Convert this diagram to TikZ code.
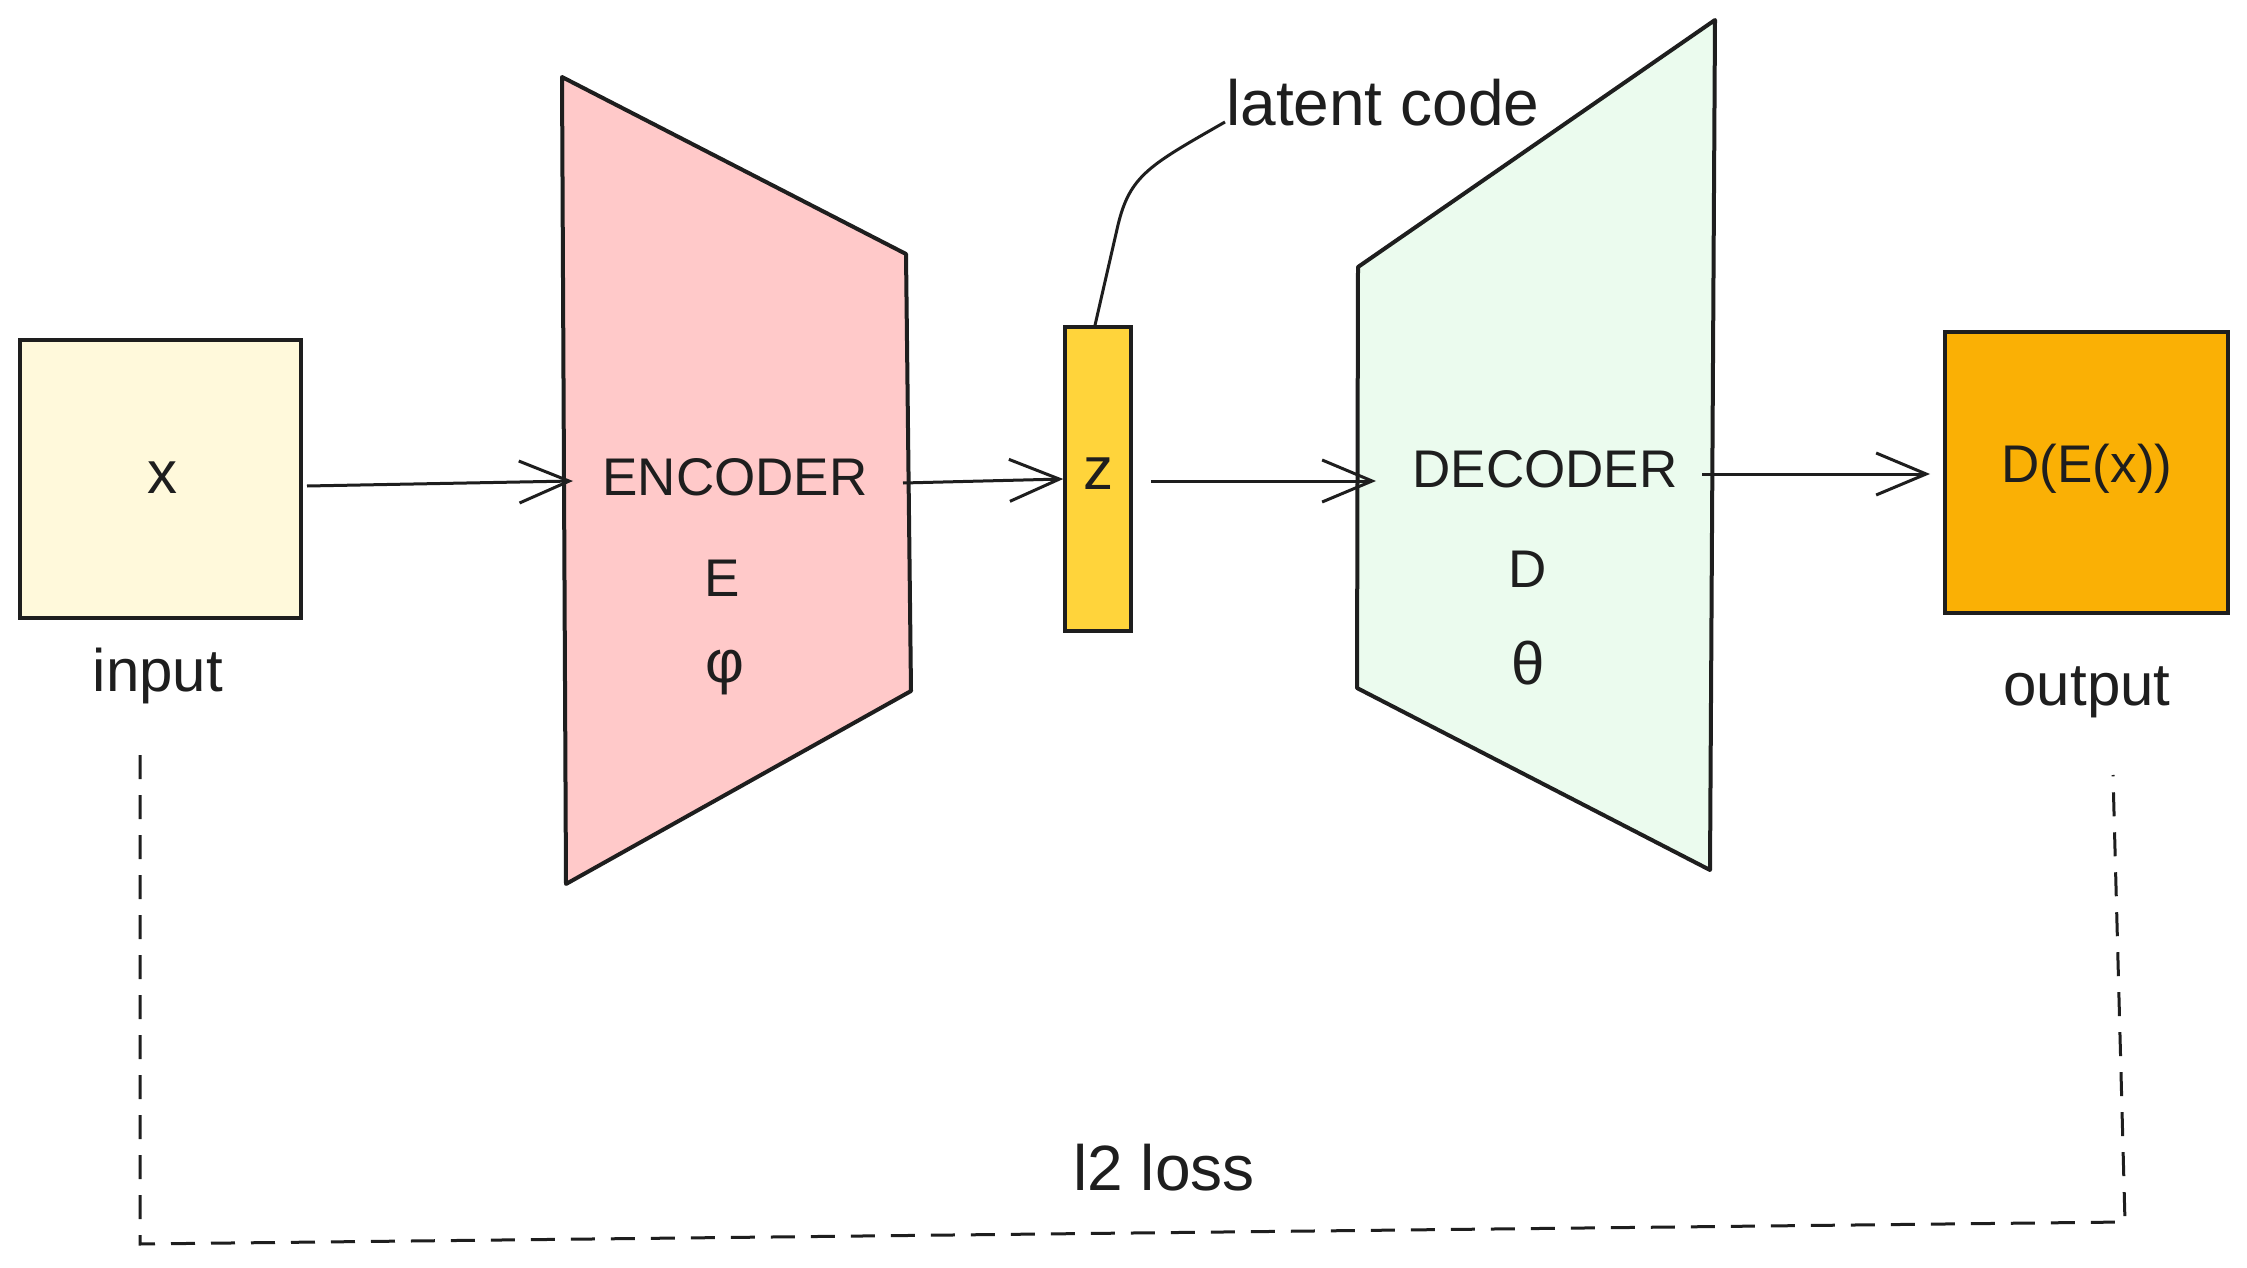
\documentclass[tikz,border=0pt]{standalone}
\usepackage{fontspec}
\setmainfont{Liberation Sans}
\usetikzlibrary{arrows.meta}
\definecolor{ink}{HTML}{1E1E1E}
\definecolor{inputfill}{HTML}{FFF9DB}
\definecolor{encfill}{HTML}{FFC9C9}
\definecolor{decfill}{HTML}{EBFBEE}
\definecolor{zfill}{HTML}{FFD43B}
\definecolor{outfill}{HTML}{FAB005}
\tikzset{
  box/.style={draw=ink, line width=4pt, inner sep=0pt},
  trapez/.style={draw=ink, line width=4pt, line join=round},
  arr/.style={draw=ink, line width=3pt, -{Straight Barb[length=50pt,width=42pt,line width=3pt]}},
  capt/.style={text=ink, font=\fontsize{53}{60}\selectfont, inner sep=0pt},
  lowt/.style={text=ink, font=\fontsize{60}{66}\selectfont, inner sep=0pt},
  lossline/.style={draw=ink, line width=3pt, dash pattern=on 24pt off 16pt}
}
\begin{document}
\begin{tikzpicture}[x=1pt,y=-1pt]
\useasboundingbox[fill=white] (0,0) rectangle (2247,1268);
% input
\node[box, fill=inputfill, minimum width=281pt, minimum height=278pt] (in) at (160.5,479) {};
\node[lowt] (xlbl) at (162,478) {x};
\node[lowt] (inlbl) at (158,676) {input};
% encoder
\coordinate (e1) at (562,77);
\coordinate (e2) at (906,254);
\coordinate (e3) at (911,691);
\coordinate (e4) at (566,884);
\path[trapez, fill=encfill] (e1) -- (e2) -- (e3) -- (e4) -- cycle;
\node[capt] (enc) at (735,477) {ENCODER};
\node[capt] (encE) at (722,578) {E};
\node[lowt] (encphi) at (725,673) {φ};
\coordinate (encin) at (573,481);
\coordinate (encout) at (903,483);
% latent z
\node[box, line width=3.5pt, fill=zfill, minimum width=66pt, minimum height=304pt] (z) at (1098,479) {};
\node[lowt] (zlbl) at (1098,474) {z};
\node[lowt, anchor=west, font=\fontsize{64}{70}\selectfont] (lc) at (1226,103) {latent code};
% decoder
\coordinate (d1) at (1358,267);
\coordinate (d2) at (1715,20);
\coordinate (d3) at (1710,870);
\coordinate (d4) at (1357,688);
\path[trapez, fill=decfill] (d1) -- (d2) -- (d3) -- (d4) -- cycle;
\node[capt] (dec) at (1545,469) {DECODER};
\node[capt] (decD) at (1528,569) {D};
\node[lowt] (dectheta) at (1528,663) {θ};
\coordinate (decin) at (1376,481);
\coordinate (decout) at (1702,474);
% output
\node[box, fill=outfill, minimum width=283pt, minimum height=281pt] (out) at (2086.5,472.5) {};
\node[capt] (outtxt) at (2087,469) {D(E(x))};
\node[lowt] (outlbl) at (2087,692) {output};
% arrows
\draw[arr] ([xshift=4pt,yshift=-7pt]in.east) -- (encin);
\draw[arr] (encout) -- (z.west);
\draw[arr] ([xshift=18pt,yshift=-2pt]z.east) -- (decin);
\draw[arr] (decout) -- ([xshift=-13pt,yshift=-1.5pt]out.west);
% leader
\draw[draw=ink, line width=3pt] ([xshift=-3pt]z.north) -- (1118,225) .. controls (1130,175) and (1150,165) .. (1225,122);
% loss
\coordinate (L1) at (140,755);
\coordinate (L2) at (140,1244);
\coordinate (L3) at (2125,1222);
\coordinate (L4) at (2113,775);
\draw[lossline] (L1) -- (L2) -- (L3) -- (L4);
\node[lowt, font=\fontsize{64}{70}\selectfont] (loss) at (1164,1168) {l2 loss};
\end{tikzpicture}
\end{document}
